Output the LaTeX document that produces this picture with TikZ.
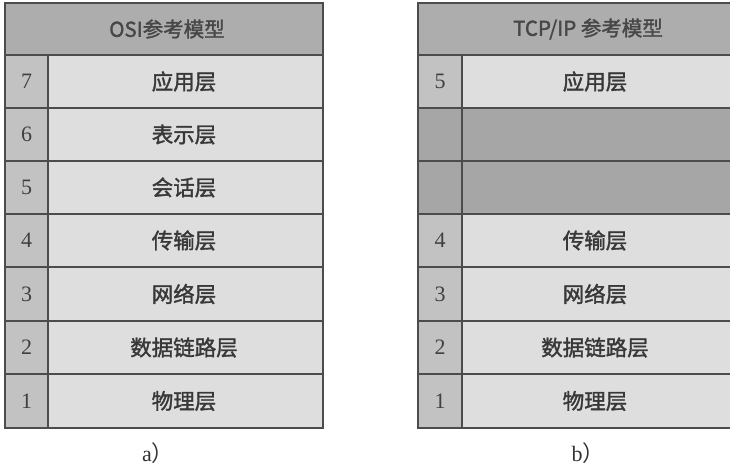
\documentclass[tikz,border=0pt]{standalone}
\usepackage{fontspec}
\setmainfont{Liberation Serif}
\newfontfamily\cjk{Noto Sans CJK SC}[FakeBold=1.6]
\newfontfamily\cjkplain{Noto Sans CJK SC}
\begin{document}
\begin{tikzpicture}[x=1pt,y=-1pt,
  gridline/.style={draw=black!70,line width=1.3pt},
  hdrfill/.style={fill=black!32},
  numfill/.style={fill=black!24},
  rowfill/.style={fill=black!13},
  darkfill/.style={fill=black!35},
  numtxt/.style={font=\fontsize{22}{22}\selectfont,text=black!75},
  laytxt/.style={font=\cjk\fontsize{21.5}{22}\selectfont,text=black!78},
  hdrtxt/.style={font=\cjk\fontsize{20.5}{21}\selectfont,text=black!72},
  captxt/.style={font=\fontsize{22}{22}\selectfont,text=black!80}]
\useasboundingbox (0,0) rectangle (730,467);
% ---------- left table ----------
\fill[hdrfill] (5,3) rectangle (323,55);
\fill[numfill] (5,55) rectangle (48,428);
\fill[rowfill] (48,55) rectangle (323,428);
\foreach \y in {55,108,161,214,267,321,374}
  \draw[gridline] (5,\y) -- (323,\y);
\draw[gridline] (48,55) -- (48,428);
\draw[gridline,line width=1.8pt] (5,3) rectangle (323,428);
\node[hdrtxt] (lh) at (167,29) {OSI参考模型};
\node[numtxt] (l7) at (26.5,81.5) {7};
\node[numtxt] (l6) at (26.5,134.5) {6};
\node[numtxt] (l5) at (26.5,187.5) {5};
\node[numtxt] (l4) at (26.5,240.5) {4};
\node[numtxt] (l3) at (26.5,294) {3};
\node[numtxt] (l2) at (26.5,347.5) {2};
\node[numtxt] (l1) at (26.5,401) {1};
\node[laytxt] (t7) at (184,81.5) {应用层};
\node[laytxt] (t6) at (184,134.5) {表示层};
\node[laytxt] (t5) at (184,187.5) {会话层};
\node[laytxt] (t4) at (184,240.5) {传输层};
\node[laytxt] (t3) at (184,294) {网络层};
\node[laytxt] (t2) at (184,347.5) {数据链路层};
\node[laytxt] (t1) at (184,401) {物理层};
\node[captxt,inner sep=1pt] (capa) at (158,453) {a{\cjkplain ）}};
% ---------- right table ----------
\fill[hdrfill] (418,3) rectangle (740,55);
\fill[numfill] (418,55) rectangle (462,428);
\fill[rowfill] (462,55) rectangle (740,428);
\fill[darkfill] (418,108) rectangle (740,214);
\foreach \y in {55,108,161,214,267,321,374}
  \draw[gridline] (418,\y) -- (740,\y);
\draw[gridline] (462,55) -- (462,428);
\draw[gridline,line width=1.8pt] (418,3) rectangle (740,428);
\node[hdrtxt] (rh) at (588,29) {TCP/IP 参考模型};
\node[numtxt] (r5) at (440,81.5) {5};
\node[numtxt] (r4) at (440,240.5) {4};
\node[numtxt] (r3) at (440,294) {3};
\node[numtxt] (r2) at (440,347.5) {2};
\node[numtxt] (r1) at (440,401) {1};
\node[laytxt] (s5) at (595,81.5) {应用层};
\node[laytxt] (s4) at (595,240.5) {传输层};
\node[laytxt] (s3) at (595,294) {网络层};
\node[laytxt] (s2) at (595,347.5) {数据链路层};
\node[laytxt] (s1) at (595,401) {物理层};
\node[captxt,inner sep=1pt] (capb) at (588,453) {b{\cjkplain ）}};
\end{tikzpicture}
\end{document}
